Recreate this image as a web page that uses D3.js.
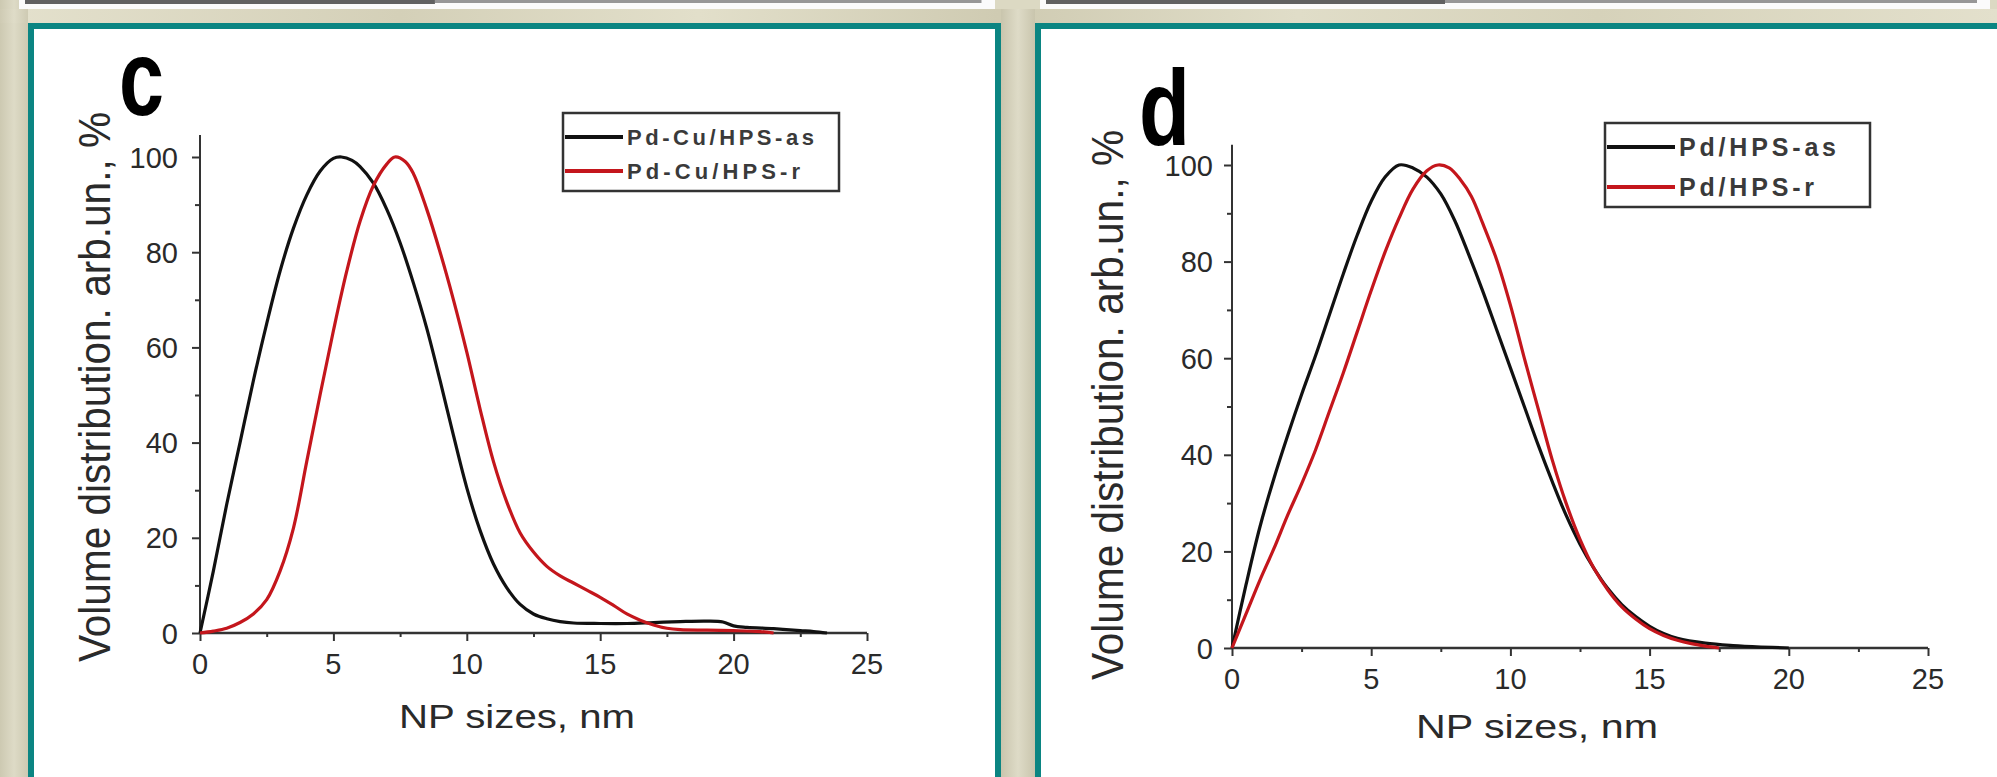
<!DOCTYPE html>
<html>
<head>
<meta charset="utf-8">
<script src="https://cdn.jsdelivr.net/npm/d3@7/dist/d3.min.js"></script>
<style>
  body { margin: 0; background: #dcd9c3; }
  svg { display: block; }
  text { font-family: "Liberation Sans", Arial, sans-serif; }
</style>
</head>
<body>
<svg width="1997" height="777"></svg>
<script>
// ---- data ----
// panel c : Pd-Cu/HPS
var cAsX = [0, 0.5, 1, 1.5, 2, 2.5, 3, 3.5, 4, 4.5, 5, 5.3, 5.7, 6, 6.5, 7, 7.5, 8, 8.5, 9, 9.5, 10, 10.5, 11, 11.5, 12, 12.5, 13, 13.5, 14, 15, 16, 17, 18, 19, 19.6, 20, 20.5, 21.5, 22.5, 23, 23.5];
var cAsY = [0, 13, 27, 40, 53, 65, 76, 85, 92, 97, 99.7, 100, 99.3, 98, 94.5, 89, 82, 73.5, 64, 53, 41.5, 30.5, 21.5, 14.5, 9.5, 6, 4, 3, 2.4, 2.1, 2, 2, 2.2, 2.4, 2.5, 2.3, 1.5, 1.2, 0.9, 0.5, 0.3, 0];
var cRX = [0, 0.5, 1, 1.5, 2, 2.5, 3, 3.5, 4, 4.5, 5, 5.5, 6, 6.5, 7, 7.3, 7.7, 8, 8.5, 9, 9.5, 10, 10.5, 11, 11.5, 12, 12.5, 13, 13.5, 14, 14.5, 15, 15.5, 16, 16.5, 17, 17.5, 18, 19, 20, 21, 21.5];
var cRY = [0, 0.4, 1, 2.2, 4, 7, 13, 22, 36, 50, 63.5, 76, 86.5, 94, 98.5, 100, 99, 96.5, 89, 80, 70, 59, 47, 36, 27.5, 21, 17, 14, 12, 10.5, 9, 7.5, 5.8, 4, 2.7, 1.7, 1, 0.7, 0.6, 0.5, 0.3, 0];

// panel d : Pd/HPS
var dAsX = [0, 0.5, 1, 1.5, 2, 2.5, 3, 3.5, 4, 4.5, 5, 5.5, 6, 6.5, 7, 7.5, 8, 8.5, 9, 9.5, 10, 10.5, 11, 11.5, 12, 12.5, 13, 13.5, 14, 14.5, 15, 15.5, 16, 17, 18, 19, 20];
var dAsY = [0, 13, 25, 35, 44, 52.5, 60.5, 69, 77.5, 85.5, 92.5, 97.5, 100, 99.4, 97.5, 94, 88.5, 81.5, 74, 66, 58, 50, 42, 34.5, 27.5, 21.5, 16.5, 12.3, 9, 6.5, 4.5, 3, 2, 1, 0.5, 0.2, 0];
var dRX = [0, 0.5, 1, 1.5, 2, 2.5, 3, 3.5, 4, 4.5, 5, 5.5, 6, 6.5, 7, 7.4, 7.8, 8.2, 8.6, 9, 9.5, 10, 10.5, 11, 11.5, 12, 12.5, 13, 13.5, 14, 14.5, 15, 15.5, 16, 16.5, 17, 17.5];
var dRY = [0, 7, 14, 20.5, 27.5, 34, 41, 49, 57, 65.5, 74, 82, 89, 95, 98.8, 100, 99.4, 97, 93.5, 88, 80.5, 71, 60, 49.5, 39, 30, 22.5, 16.5, 12, 8.5, 6, 4, 2.6, 1.6, 0.9, 0.4, 0];

var xTicks = [0, 5, 10, 15, 20, 25];
var yTicks = [0, 20, 40, 60, 80, 100];
var legendC = ["Pd-Cu/HPS-as", "Pd-Cu/HPS-r"];
var legendD = ["Pd/HPS-as", "Pd/HPS-r"];
var xTitle = "NP sizes, nm";
var yTitle = "Volume distribution. arb.un., %";

var svg = d3.select("svg");
var teal = "#0b8582", red = "#c4161c", ink = "#2a2a2a";

// ---- background: beige with soft vertical streaks ----
var defs = svg.append("defs");
var streak = defs.append("linearGradient").attr("id", "streak")
  .attr("x1", 0).attr("x2", 1).attr("y1", 0).attr("y2", 0);
[["0%", "#e4e1cd"], ["20%", "#d4d0b8"], ["35%", "#e2dfca"], ["50%", "#cfcbb2"],
 ["65%", "#e0ddc8"], ["80%", "#d6d2ba"], ["100%", "#e3e0cc"]].forEach(function(s) {
  streak.append("stop").attr("offset", s[0]).attr("stop-color", s[1]);
});
var gap = defs.append("linearGradient").attr("id", "gap")
  .attr("x1", 0).attr("x2", 1).attr("y1", 0).attr("y2", 0);
[["0%", "#c9c5ad"], ["50%", "#dedbc7"], ["100%", "#c9c5ad"]].forEach(function(s) {
  gap.append("stop").attr("offset", s[0]).attr("stop-color", s[1]);
});
svg.append("rect").attr("width", 1997).attr("height", 777).attr("fill", "#dcd9c3");
svg.append("rect").attr("y", 9).attr("width", 1997).attr("height", 14).attr("fill", "url(#streak)");
svg.append("rect").attr("x", 0).attr("width", 28).attr("height", 777).attr("fill", "url(#gap)").attr("opacity", 0.8);
svg.append("rect").attr("x", 1001).attr("y", 9).attr("width", 34).attr("height", 768).attr("fill", "url(#gap)");

// strips of the panels above (a, b)
[[19, 976], [1040, 950]].forEach(function(s) {
  svg.append("rect").attr("x", s[0]).attr("y", 0).attr("width", s[1]).attr("height", 9).attr("fill", "#fbfbfb");
  svg.append("rect").attr("x", s[0] + 6).attr("y", 0).attr("width", s[1] * 0.42).attr("height", 4).attr("fill", "#2e2e2e").attr("opacity", 0.75);
  svg.append("rect").attr("x", s[0] + s[1] * 0.42 + 6).attr("y", 0).attr("width", s[1] * 0.56).attr("height", 3).attr("fill", "#555").attr("opacity", 0.6);
});

// panel frames
svg.append("rect").attr("x", 31).attr("y", 26).attr("width", 967).attr("height", 780)
  .attr("fill", "#fff").attr("stroke", teal).attr("stroke-width", 6);
svg.append("rect").attr("x", 1038).attr("y", 26).attr("width", 990).attr("height", 780)
  .attr("fill", "#fff").attr("stroke", teal).attr("stroke-width", 6);

function draw_panel(p) {
  var g = svg.append("g");
  var x = d3.scaleLinear().domain([0, 25]).range([p.left, p.right]);
  var y = d3.scaleLinear().domain([0, 100]).range([p.bottom, p.top]);

  // axes (left and bottom only, outward ticks)
  var xAxis = d3.axisBottom(x).tickValues(xTicks).tickSize(8).tickFormat("");
  var xMinor = d3.axisBottom(x).tickValues(d3.range(2.5, 25, 5)).tickSize(4).tickFormat("");
  var yAxis = d3.axisLeft(y).tickValues(yTicks).tickSize(8).tickFormat("");
  var yMinor = d3.axisLeft(y).tickValues(d3.range(10, 100, 20)).tickSize(5).tickFormat("");
  [xAxis, xMinor].forEach(function(a) {
    g.append("g").attr("transform", "translate(0," + p.bottom + ")").call(a);
  });
  [yAxis, yMinor].forEach(function(a) {
    g.append("g").attr("transform", "translate(" + p.left + ",0)").call(a);
  });
  g.selectAll(".domain").remove();
  g.selectAll(".tick line").attr("stroke", "#333").attr("stroke-width", 2);
  g.append("line").attr("x1", p.left).attr("x2", p.left)
    .attr("y1", y(0) + 1).attr("y2", y(p.ymax)).attr("stroke", "#333").attr("stroke-width", 2);
  g.append("line").attr("x1", p.left).attr("x2", x(25))
    .attr("y1", y(0)).attr("y2", y(0)).attr("stroke", "#333").attr("stroke-width", 2.5);

  // tick labels
  g.selectAll(".xl").data(xTicks).enter().append("text")
    .attr("x", function(d) { return x(d); })
    .attr("y", p.bottom + 41)
    .attr("text-anchor", "middle").attr("font-size", 29).attr("fill", ink)
    .text(function(d) { return d; });
  g.selectAll(".yl").data(yTicks).enter().append("text")
    .attr("x", p.left - p.ylabGap)
    .attr("y", function(d) { return y(d) + 10.5; })
    .attr("text-anchor", "end").attr("font-size", 29).attr("fill", ink)
    .text(function(d) { return d; });

  // axis titles
  g.append("text").attr("x", p.xtX).attr("y", p.bottom + p.xtDy)
    .attr("text-anchor", "middle").attr("font-size", 33).attr("fill", ink)
    .attr("textLength", p.xtLen).attr("lengthAdjust", "spacingAndGlyphs")
    .text(xTitle);
  g.append("text")
    .attr("transform", "translate(" + p.ytX + "," + p.ytY + ") rotate(-90)")
    .attr("text-anchor", "middle").attr("font-size", 44).attr("fill", ink)
    .attr("textLength", 550).attr("lengthAdjust", "spacingAndGlyphs")
    .text(yTitle);

  // panel letter
  g.append("text").attr("x", p.letX).attr("y", p.letY)
    .attr("font-size", 108).attr("font-weight", "bold").attr("fill", "#000")
    .attr("textLength", p.letW).attr("lengthAdjust", "spacingAndGlyphs")
    .text(p.letter);

  // curves
  var line = d3.line()
    .x(function(d) { return x(d[0]); })
    .y(function(d) { return y(d[1]); })
    .curve(d3.curveCatmullRom.alpha(0.5));
  var series = [
    {xs: p.asX, ys: p.asY, color: "#111"},
    {xs: p.rX, ys: p.rY, color: red}
  ];
  series.forEach(function(s) {
    var pts = d3.zip(s.xs, s.ys);
    g.append("path").datum(pts).attr("d", line)
      .attr("fill", "none").attr("stroke", s.color).attr("stroke-width", 3.2)
      .attr("stroke-linejoin", "round");
  });

  // legend
  var L = p.leg;
  g.append("rect").attr("x", L.x).attr("y", L.y).attr("width", L.w).attr("height", L.h)
    .attr("fill", "none").attr("stroke", "#333").attr("stroke-width", 2.5);
  p.names.forEach(function(name, i) {
    var cy = L.y + L.row0 + i * L.dy;
    g.append("line").attr("x1", L.x + 2).attr("x2", L.x + L.lineW)
      .attr("y1", cy).attr("y2", cy)
      .attr("stroke", series[i].color).attr("stroke-width", 4);
    g.append("text").attr("x", L.x + L.lineW + 4).attr("y", cy + L.fs * 0.36)
      .attr("font-size", L.fs).attr("font-weight", "bold").attr("fill", "#3a3a3a")
      .attr("textLength", L.lens[i]).attr("lengthAdjust", "spacing")
      .text(name);
  });
}

draw_panel({
  left: 200, right: 867, top: 157, bottom: 633, ymax: 104.6, ylabGap: 22,
  xtX: 517, xtDy: 95, xtLen: 236, ytX: 110, ytY: 387,
  letter: "c", letX: 119, letY: 115, letW: 45,
  asX: cAsX, asY: cAsY, rX: cRX, rY: cRY, names: legendC,
  leg: {x: 563, y: 113, w: 276, h: 78, row0: 24, dy: 34, lineW: 60, fs: 22, lens: [187, 173]}
});
draw_panel({
  left: 1232, right: 1928, top: 165, bottom: 648, ymax: 104.2, ylabGap: 19,
  xtX: 1537, xtDy: 90, xtLen: 242, ytX: 1123, ytY: 405,
  letter: "d", letX: 1139, letY: 145, letW: 51,
  asX: dAsX, asY: dAsY, rX: dRX, rY: dRY, names: legendD,
  leg: {x: 1605, y: 123, w: 265, h: 84, row0: 24, dy: 40, lineW: 70, fs: 25, lens: [157, 135]}
});
</script>
</body>
</html>
